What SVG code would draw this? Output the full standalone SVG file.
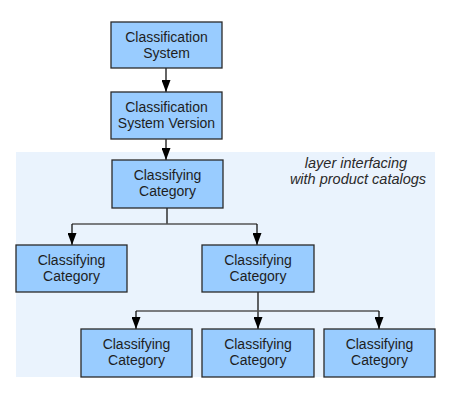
<svg xmlns="http://www.w3.org/2000/svg" width="453" height="400" viewBox="0 0 453 400">
<style>
.box{fill:#99ccff;stroke:#2a2a2a;stroke-width:1.3}
.t{font-family:"Liberation Sans",Arial,sans-serif;font-size:14px;fill:#1e1e1e;text-anchor:middle}
.n{font-family:"Liberation Sans",Arial,sans-serif;font-size:14.5px;fill:#2a2a2a;text-anchor:middle;font-style:italic}
.c{fill:none;stroke:#111;stroke-width:1.3}
.h{fill:none;stroke:#555;stroke-width:1.6}
</style>
<defs>
<marker id="ah" viewBox="0 0 12 9" refX="12" refY="4.5" markerWidth="12" markerHeight="9" markerUnits="userSpaceOnUse" orient="auto">
<path d="M0,0 L12,4.5 L0,9 Z" fill="#000"/>
</marker>
</defs>
<rect x="16" y="152" width="419" height="225" fill="#eaf3fd"/>
<text class="n" x="356" y="168">layer interfacing</text>
<text class="n" x="358" y="184">with product catalogs</text>
<g id="connectors">
<path class="c" d="M166,68 V92" marker-end="url(#ah)"/>
<path class="c" d="M166,139 V160" marker-end="url(#ah)"/>
<path class="c" d="M167,208 V224"/>
<path class="h" d="M72,224 H257"/>
<path class="c" d="M72,224 V245" marker-end="url(#ah)"/>
<path class="c" d="M257,224 V245" marker-end="url(#ah)"/>
<path class="c" d="M258,292 V329" marker-end="url(#ah)"/>
<path class="h" d="M136,311 H379"/>
<path class="c" d="M136,311 V329" marker-end="url(#ah)"/>
<path class="c" d="M379,311 V329" marker-end="url(#ah)"/>
</g>
<g id="n1"><rect class="box" x="111" y="22" width="111" height="46"/><text class="t" x="166.5" y="42">Classification</text><text class="t" x="166.5" y="58">System</text></g>
<g id="n2"><rect class="box" x="111" y="92" width="111" height="47"/><text class="t" x="166.5" y="112">Classification</text><text class="t" x="166.5" y="128">System Version</text></g>
<g id="n3"><rect class="box" x="112" y="160" width="111" height="48"/><text class="t" x="167.5" y="180">Classifying</text><text class="t" x="167.5" y="196">Category</text></g>
<g id="n4"><rect class="box" x="16" y="245" width="111" height="47"/><text class="t" x="71.5" y="265">Classifying</text><text class="t" x="71.5" y="281">Category</text></g>
<g id="n5"><rect class="box" x="202" y="245" width="112" height="47"/><text class="t" x="258" y="265">Classifying</text><text class="t" x="258" y="281">Category</text></g>
<g id="n6"><rect class="box" x="81" y="329" width="111" height="48"/><text class="t" x="136.5" y="349">Classifying</text><text class="t" x="136.5" y="365">Category</text></g>
<g id="n7"><rect class="box" x="202" y="329" width="112" height="48"/><text class="t" x="258" y="349">Classifying</text><text class="t" x="258" y="365">Category</text></g>
<g id="n8"><rect class="box" x="324" y="329" width="111" height="48"/><text class="t" x="379.5" y="349">Classifying</text><text class="t" x="379.5" y="365">Category</text></g>
</svg>
